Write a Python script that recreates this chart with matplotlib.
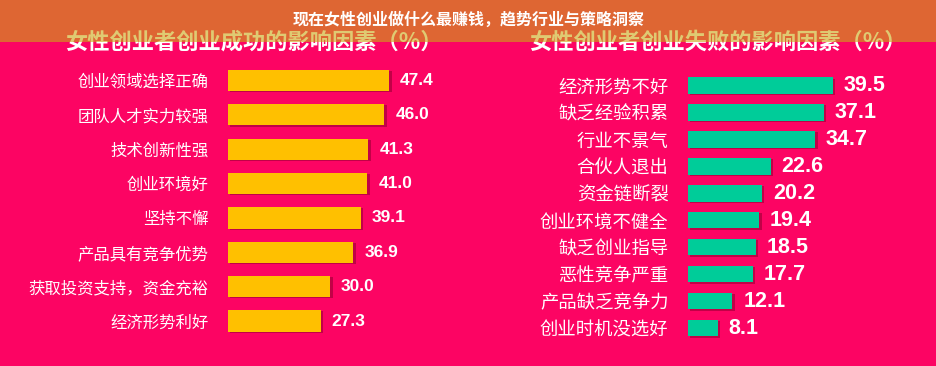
import matplotlib
matplotlib.use('Agg')
import matplotlib.pyplot as plt
import matplotlib.patheffects as pe
from matplotlib.patches import Rectangle

plt.rcParams['font.family'] = ['Noto Sans CJK SC', 'DejaVu Sans']

# data
page_title = '现在女性创业做什么最赚钱，趋势行业与策略洞察'
left_title = '女性创业者创业成功的影响因素（%）'
left_labels = ['创业领域选择正确', '团队人才实力较强', '技术创新性强', '创业环境好',
               '坚持不懈', '产品具有竞争优势', '获取投资支持，资金充裕', '经济形势利好']
left_values = [47.4, 46.0, 41.3, 41.0, 39.1, 36.9, 30.0, 27.3]

right_title = '女性创业者创业失败的影响因素（%）'
right_labels = ['经济形势不好', '缺乏经验积累', '行业不景气', '合伙人退出', '资金链断裂',
                '创业环境不健全', '缺乏创业指导', '恶性竞争严重', '产品缺乏竞争力', '创业时机没选好']
right_values = [39.5, 37.1, 34.7, 22.6, 20.2, 19.4, 18.5, 17.7, 12.1, 8.1]

bg = '#fc0463'
W, H = 937, 366
fig = plt.figure(figsize=(W / 100, H / 100), dpi=100, facecolor=bg)


def px_axes(x0, x1, y0, y1):
    # pixel box (from top-left) -> figure axes
    return fig.add_axes([x0 / W, 1 - y1 / H, (x1 - x0) / W, (y1 - y0) / H])


def draw_panel(ax, labels, values, color, xmax, bar_h, lab_size, val_size, val_family):
    n = len(values)
    ax.set_facecolor('none')
    bars = ax.barh(range(n), values, height=bar_h, color=color)
    for b in bars:
        b.set_path_effects([pe.SimplePatchShadow(offset=(1.8, -0.8), shadow_rgbFace='#a8003c', alpha=0.7),
                            pe.Normal()])
    ax.set_xlim(0, xmax)
    ax.set_ylim(n - 0.5, -0.5)
    ax.set_yticks(range(n))
    ax.set_yticklabels(labels, color='white', fontsize=lab_size)
    ax.tick_params(axis='y', length=0, pad=14)
    ax.set_xticks([])
    for s in ax.spines.values():
        s.set_visible(False)
    for i, v in enumerate(values):
        ax.annotate(f'{v:.1f}', (v, i), xytext=(11, 0), textcoords='offset pixels',
                    ha='left', va='center', color='white', fontsize=val_size,
                    fontweight='bold', family=val_family)


axl = px_axes(228, 470, 63.3, 338.2)
draw_panel(axl, left_labels, left_values, '#ffc000', (470 - 228) / 3.40, 0.62, 11.8, 12.5,
           ['Liberation Sans', 'DejaVu Sans'])

axr = px_axes(688, 937, 72.0, 341.8)
draw_panel(axr, right_labels, right_values, '#00cc99', (937 - 688) / 3.66, 0.6, 13.2, 15.5,
           ['Liberation Sans', 'DejaVu Sans'])

# panel titles, partly hidden by the banner
fig.text(254 / W, 1 - 42 / H, left_title, ha='center', va='center', color='white',
         fontsize=16, fontweight='heavy')
fig.text(718 / W, 1 - 42 / H, right_title, ha='center', va='center', color='white',
         fontsize=16, fontweight='heavy')

# top banner
fig.patches.append(Rectangle((0, 1 - 42 / H), 1, 42 / H, transform=fig.transFigure,
                             facecolor='#cba814', alpha=0.6, edgecolor='none', zorder=5))
fig.text(0.5, 1 - 20 / H, page_title, ha='center', va='center', color='white',
         fontsize=11.5, fontweight='bold', zorder=6)

fig.savefig('out.png', dpi=100, facecolor=bg)
